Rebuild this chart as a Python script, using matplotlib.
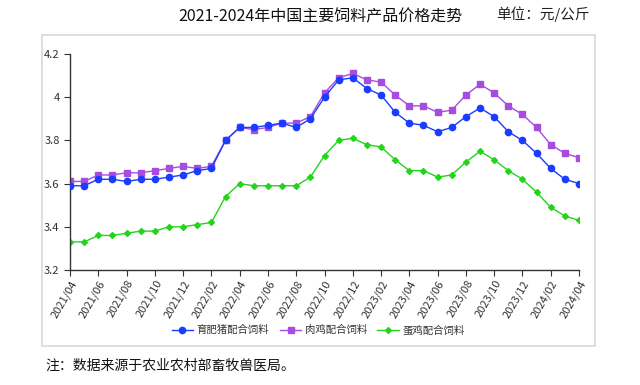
import matplotlib
matplotlib.use('Agg')
import matplotlib.pyplot as plt
from matplotlib.patches import Rectangle

plt.rcParams['font.family'] = ['Noto Sans CJK SC', 'DejaVu Sans']
plt.rcParams['axes.unicode_minus'] = False

# === 数据 ===
months = ['2021/04', '2021/05', '2021/06', '2021/07', '2021/08', '2021/09', '2021/10',
          '2021/11', '2021/12', '2022/01', '2022/02', '2022/03', '2022/04', '2022/05',
          '2022/06', '2022/07', '2022/08', '2022/09', '2022/10', '2022/11', '2022/12',
          '2023/01', '2023/02', '2023/03', '2023/04', '2023/05', '2023/06', '2023/07',
          '2023/08', '2023/09', '2023/10', '2023/11', '2023/12', '2024/01', '2024/02',
          '2024/03', '2024/04']

pig = [3.59, 3.59, 3.62, 3.62, 3.61, 3.62, 3.62, 3.63, 3.64, 3.66, 3.67, 3.80, 3.86,
       3.86, 3.87, 3.88, 3.86, 3.90, 4.00, 4.08, 4.09, 4.04, 4.01, 3.93, 3.88, 3.87,
       3.84, 3.86, 3.91, 3.95, 3.91, 3.84, 3.80, 3.74, 3.67, 3.62, 3.60]

broiler = [3.61, 3.61, 3.64, 3.64, 3.65, 3.65, 3.66, 3.67, 3.68, 3.67, 3.68, 3.80, 3.86,
           3.85, 3.86, 3.88, 3.88, 3.91, 4.02, 4.09, 4.11, 4.08, 4.07, 4.01, 3.96, 3.96,
           3.93, 3.94, 4.01, 4.06, 4.02, 3.96, 3.92, 3.86, 3.78, 3.74, 3.72]

layer = [3.33, 3.33, 3.36, 3.36, 3.37, 3.38, 3.38, 3.40, 3.40, 3.41, 3.42, 3.54, 3.60,
         3.59, 3.59, 3.59, 3.59, 3.63, 3.73, 3.80, 3.81, 3.78, 3.77, 3.71, 3.66, 3.66,
         3.63, 3.64, 3.70, 3.75, 3.71, 3.66, 3.62, 3.56, 3.49, 3.45, 3.43]

series_names = ['育肥猪配合饲料', '肉鸡配合饲料', '蛋鸡配合饲料']

# === 绘图 ===
W, H = 640, 385
fig = plt.figure(figsize=(W / 100, H / 100), dpi=100)

# 外框
fig.patches.append(Rectangle((42 / W, 1 - 346 / H), (595 - 42) / W, (346 - 35) / H,
                             transform=fig.transFigure, fill=False,
                             edgecolor='#d9d9d9', linewidth=1.2))

ax = fig.add_axes([70 / W, 1 - 270 / H, (579 - 70) / W, (270 - 54) / H])

x = list(range(len(months)))
ax.plot(x, pig, color='#1a3cff', lw=1, marker='o', ms=4.5, label=series_names[0], zorder=3)
ax.plot(x, broiler, color='#a64de0', lw=1, marker='s', ms=4.5, label=series_names[1], zorder=2)
ax.plot(x, layer, color='#22d41a', lw=1, marker='D', ms=3, label=series_names[2], zorder=2)

ax.set_xlim(0, len(months) - 1)
ax.set_ylim(3.2, 4.2)
ax.set_yticks([3.2, 3.4, 3.6, 3.8, 4.0, 4.2])
ax.set_yticklabels(['3.2', '3.4', '3.6', '3.8', '4', '4.2'])
ax.set_xticks(x[::2])
ax.set_xticklabels(months[::2], rotation=60, ha='right', rotation_mode='anchor')
ax.tick_params(axis='both', labelsize=8, colors='#333333', length=4, width=0.8)
ax.tick_params(axis='x', pad=2)

for s in ['top', 'right']:
    ax.spines[s].set_visible(False)
for s in ['left', 'bottom']:
    ax.spines[s].set_color('#333333')
    ax.spines[s].set_linewidth(1)

fig.legend(loc='center', bbox_to_anchor=(318 / W, 1 - 330 / H), ncol=3, frameon=False,
           fontsize=7.5, handlelength=2.1, handletextpad=0.3, columnspacing=1.0,
           labelcolor='#333333')

fig.text(320 / W, 1 - 17 / H, '2021-2024年中国主要饲料产品价格走势', ha='center', va='center',
         fontsize=11.5, color='#111111')
fig.text(543 / W, 1 - 14 / H, '单位：元/公斤', ha='center', va='center',
         fontsize=10.5, color='#222222')
fig.text(45 / W, 1 - 366 / H, '注：数据来源于农业农村部畜牧兽医局。', ha='left', va='center',
         fontsize=10, color='#111111')

fig.savefig('out.png', dpi=100)
